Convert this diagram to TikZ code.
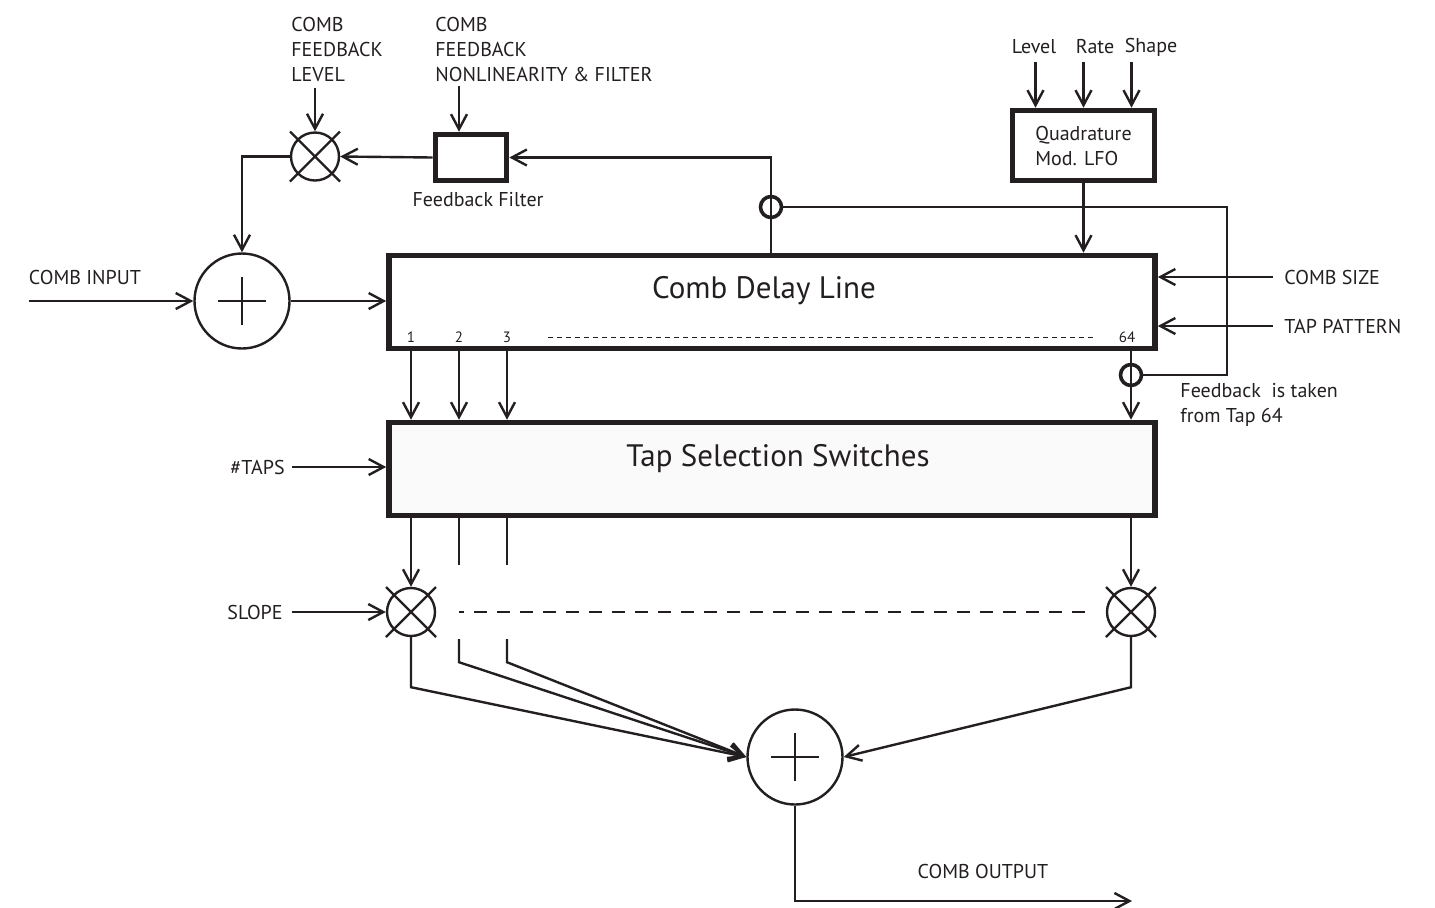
\documentclass[tikz,border=0pt]{standalone}
\usepackage{fontspec}
\setmainfont{PT Sans}
\usetikzlibrary{arrows.meta}

\definecolor{ink}{HTML}{231F20}
\tikzset{
  sig/.style={line width=1.2pt,-{Straight Barb[length=7.5pt,width=8pt,line width=1.2pt]}},
  wire/.style={line width=1.2pt},
  blockbox/.style={draw,line width=2.8pt,inner sep=0pt},
  sumnode/.style={circle,draw,line width=1.2pt,minimum size=47.5pt,inner sep=0pt,
    path picture={\draw[line width=1.2pt] (path picture bounding box.center) +(-12pt,0) -- +(12pt,0) +(0,-12pt) -- +(0,12pt);}},
  multnode/.style={circle,draw,line width=1.2pt,minimum size=24pt,inner sep=0pt},
  hopnode/.style={circle,draw,line width=1.8pt,minimum size=10.5pt,inner sep=0pt},
  lbl/.style={font=\fontsize{10}{12.5}\selectfont,inner sep=0pt},
  bigtxt/.style={font=\fontsize{15.5}{18}\selectfont,inner sep=0pt},
  tapnum/.style={font=\fontsize{7.5}{9}\selectfont,inner sep=0pt}
}

\begin{document}
\begin{tikzpicture}[x=0.5pt,y=-0.5pt,color=ink]
\useasboundingbox (0,0) rectangle (1435,907);

% main blocks
\node[blockbox,minimum width=383pt,minimum height=46.5pt] (delay) at (772,302) {};
\node[bigtxt] at (764,291) {Comb Delay Line};
\node[blockbox,fill=black!2,minimum width=383pt,minimum height=46.5pt] (taps) at (772,469) {};
\node[bigtxt] at (778,459) {Tap Selection Switches};
\node[blockbox,minimum width=35.5pt,minimum height=23pt] (filt) at (471,157.5) {};
\node[lbl] at (478,200) {Feedback Filter};
\node[blockbox,minimum width=71pt,minimum height=35pt,lbl,align=left] (lfo) at (1083.5,145.5) {Quadrature\\Mod. LFO};

% summers, multipliers, crossings
\node[sumnode] (sumin) at (242,301) {};
\node[sumnode] (sumout) at (795,757) {};
\node[multnode] (fbmul) at (315,156.5) {};
\node[multnode] (sl1) at (411,612) {};
\node[multnode] (sl2) at (1131,612) {};
\foreach \m in {fbmul,sl1,sl2}
  \draw[wire] (\m.center) +(-25,-25) -- +(25,25) +(-25,25) -- +(25,-25);
\node[hopnode] (hopfb) at (771,207) {};
\node[hopnode] (hop64) at (1131,375) {};

% labels
\node[lbl,anchor=north west,align=left] (fblvl) at (291,17) {COMB\\FEEDBACK\\LEVEL};
\node[lbl,anchor=north west,align=left] (fbnl) at (435,17) {COMB\\FEEDBACK\\NONLINEARITY \& FILTER};
\node[lbl] (lfolevel) at (1034,47) {Level};
\node[lbl] (lforate) at (1095,47) {Rate};
\node[lbl] (lfoshape) at (1151,47) {Shape};
\node[lbl] (inlbl) at (85,277) {COMB INPUT};
\node[lbl,anchor=west] (csize) at (1284,277) {COMB SIZE};
\node[lbl,anchor=west] (tpat) at (1284,326) {TAP PATTERN};
\node[lbl,anchor=north west,align=left] at (1180,383) {Feedback\ \ is taken\\from Tap 64};
\node[lbl,anchor=east] (ntaps) at (285,467) {\#TAPS};
\node[lbl,anchor=east] (slope) at (283,612) {SLOPE};
\node[lbl] at (983,871) {COMB OUTPUT};

% tap numbers
\node[tapnum] (n1) at (411,337) {1};
\node[tapnum] (n2) at (459,337) {2};
\node[tapnum] (n3) at (507,337) {3};
\node[tapnum] (n64) at (1127,337) {64};
\draw[line width=0.5pt,dash pattern=on 2.5pt off 2pt] (548,337) -- (1095,337);

% input path
\coordinate (inp) at (inlbl.west |- sumin);
\draw[sig] (inp) -- (sumin.west);
\draw[sig] (sumin.east) -- (sumin.east -| delay.west);

% feedback loop
\coordinate (fbcorner) at (1227,207);
\draw[wire] (hop64.east) -| (fbcorner) -- (hopfb.east);
\draw[sig] (delay.north -| hopfb) |- (filt.east);
\draw[sig] (filt.west) -- (fbmul.east);
\draw[sig] (fbmul.west) -| (sumin.north);
\draw[sig] ([yshift=-3pt]fbmul.north |- fblvl.south) -- (fbmul.north);
\draw[sig] ([xshift=-6pt,yshift=23pt]filt.north) -- ([xshift=-6pt]filt.north);

% lfo
\foreach \dx in {-24pt,0pt,24pt}
  \draw[sig] ([xshift=\dx,yshift=23pt]lfo.north) -- ([xshift=\dx]lfo.north);
\draw[sig] (lfo.south) -- (lfo.south |- delay.north);

% control inputs
\draw[sig] ([xshift=-5.5pt]csize.west) -- (delay.east |- csize);
\draw[sig] ([xshift=-5.5pt]tpat.west) -- (delay.east |- tpat);
\draw[sig] ([xshift=3.5pt]ntaps.east) -- (ntaps -| taps.west);
\draw[sig] ([xshift=4.5pt]slope.east) -- (sl1.west);

% taps
\foreach \n in {n1,n2,n3}
  \draw[sig] (\n |- delay.south) -- (\n |- taps.north);
\draw[sig] (hop64 |- delay.south) -- (hop64 |- taps.north);

% outputs of the switches
\draw[sig] (sl1 |- taps.south) -- (sl1.north);
\draw[sig] (sl2 |- taps.south) -- (sl2.north);
\foreach \n in {n2,n3}
  \draw[wire] (\n |- taps.south) -- ++(0,47);
\draw[wire,dash pattern=on 6.5pt off 5pt,dash phase=4pt] (459,612) -- (1090,612);

% to the output summer
\draw[sig] (sl1.south) -- ++(0,50) -- (sumout.west);
\foreach \n in {n2,n3}
  \draw[sig] (\n |- sl1.south) ++(0,2) -- ++(0,23) -- (sumout.west);
\draw[sig] (sl2.south) -- ++(0,50) -- (sumout.east);
\coordinate (outend) at (1132,901);
\draw[sig] (sumout.south) |- (outend);

\end{tikzpicture}
\end{document}
